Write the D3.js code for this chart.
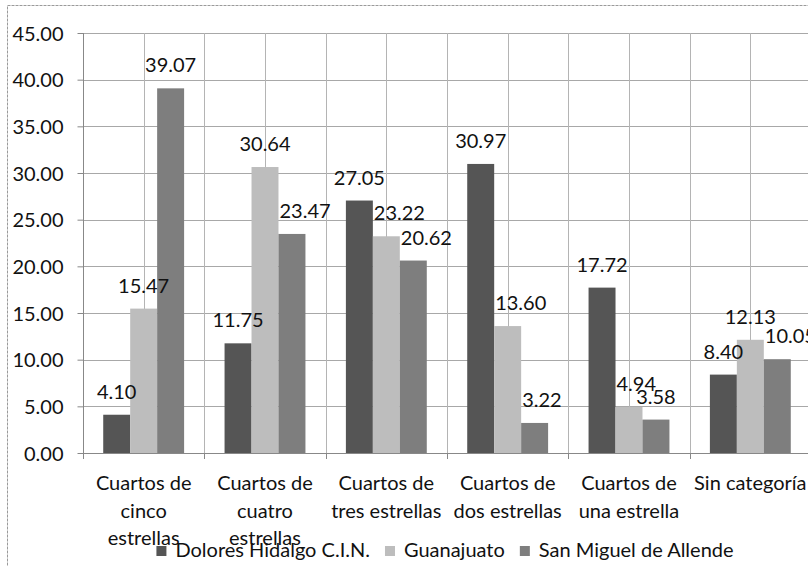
<!DOCTYPE html>
<html>
<head>
<meta charset="utf-8">
<script src="https://cdn.jsdelivr.net/npm/d3@7"></script>
<style>
  body { margin: 0; background: #fff; }
  svg { display: block; font-family: Lato, "Open Sans", sans-serif; }
</style>
</head>
<body>
<div id="chart"></div>
<script>
// category labels (already wrapped as in the original)
const categories = [
    ['Cuartos de', 'cinco', 'estrellas'],
    ['Cuartos de', 'cuatro', 'estrellas'],
    ['Cuartos de', 'tres estrellas'],
    ['Cuartos de', 'dos estrellas'],
    ['Cuartos de', 'una estrella'],
    ['Sin categoría']
];
const seriesNames = ['Dolores Hidalgo C.I.N.', 'Guanajuato', 'San Miguel de Allende'];
const dolores    = [4.10, 11.75, 27.05, 30.97, 17.72, 8.40];
const guanajuato = [15.47, 30.64, 23.22, 13.60, 4.94, 12.13];
const sanMiguel  = [39.07, 23.47, 20.62, 3.22, 3.58, 10.05];
const yTicks = [0, 5, 10, 15, 20, 25, 30, 35, 40, 45];

const seriesValues = [dolores, guanajuato, sanMiguel];
const seriesColors = ['#555555', '#bdbdbd', '#7e7e7e'];

const width = 808, height = 566;
const plot = { left: 83, right: 811, top: 33, bottom: 453 };
const fontSize = 20;

const svg = d3.select('#chart').append('svg')
    .attr('width', width)
    .attr('height', height);

// chart area border
svg.append('rect')
    .attr('x', 7.5).attr('y', 5.5)
    .attr('width', 820).attr('height', 580)
    .attr('fill', 'none')
    .attr('stroke', '#9a9a9a')
    .attr('stroke-dasharray', '3,1');

const x0 = d3.scaleBand()
    .domain(d3.range(categories.length))
    .range([plot.left, plot.right]);

const bw = x0.bandwidth();
const x1 = d3.scaleBand()
    .domain(d3.range(seriesNames.length))
    .range([bw / 6, bw * 5 / 6]);

const y = d3.scaleLinear()
    .domain([0, 45])
    .range([plot.bottom, plot.top]);

// horizontal gridlines
svg.append('g')
    .selectAll('line')
    .data(yTicks.slice(1))
    .join('line')
    .attr('x1', plot.left).attr('x2', plot.right)
    .attr('y1', d => Math.round(y(d)) + 0.5)
    .attr('y2', d => Math.round(y(d)) + 0.5)
    .attr('stroke', '#a8a8a8');

// vertical gridlines at band edges and band centres
const vLines = [];
d3.range(categories.length).forEach(i => {
    vLines.push(x0(i) + bw / 2);
    vLines.push(x0(i) + bw);
});
svg.append('g')
    .selectAll('line')
    .data(vLines)
    .join('line')
    .attr('x1', d => Math.round(d) + 0.5).attr('x2', d => Math.round(d) + 0.5)
    .attr('y1', plot.top).attr('y2', plot.bottom)
    .attr('stroke', '#b4b4b4');

// bars
const groups = svg.append('g')
    .selectAll('g')
    .data(d3.range(categories.length))
    .join('g')
    .attr('transform', i => `translate(${x0(i)},0)`);

groups.selectAll('rect')
    .data(i => seriesValues.map((s, k) => ({ k, v: s[i] })))
    .join('rect')
    .attr('x', d => x1(d.k))
    .attr('y', d => y(d.v))
    .attr('width', x1.bandwidth())
    .attr('height', d => y(0) - y(d.v))
    .attr('fill', d => seriesColors[d.k]);

// data labels, nudged right when they would sit on the neighbouring taller bar
const labelLayer = svg.append('g')
    .attr('font-size', fontSize)
    .attr('fill', '#111');

d3.range(categories.length).forEach(i => {
    seriesValues.forEach((s, k) => {
        const cx = x0(i) + x1(k) + x1.bandwidth() / 2;
        const base = y(s[i]) - 16;
        const t = labelLayer.append('text')
            .attr('y', base)
            .text(d3.format('.2f')(s[i]));
        const w = t.node().getComputedTextLength();
        let left = cx - w / 2;
        if (k > 0) {
            const prevRight = x0(i) + x1(k - 1) + x1.bandwidth();
            const prevTop = y(seriesValues[k - 1][i]);
            if (left < prevRight && base + 2 > prevTop) left = prevRight + 1;
        }
        t.attr('x', left);
    });
});

// y axis
const yAxis = svg.append('g')
    .attr('transform', `translate(${plot.left + 0.5},0)`)
    .call(d3.axisLeft(y).tickValues(yTicks).tickFormat(d3.format('.2f')).tickSize(6).tickPadding(14));
yAxis.select('.domain').attr('stroke', '#888').attr('d', `M0,${plot.top}V${plot.bottom}`);
yAxis.selectAll('.tick line').attr('stroke', '#888');
yAxis.selectAll('.tick text')
    .attr('font-family', 'Lato, "Open Sans", sans-serif')
    .attr('font-size', fontSize)
    .attr('fill', '#111')
    .attr('dy', '0.36em');

// x axis line and ticks at band edges
svg.append('line')
    .attr('x1', plot.left).attr('x2', plot.right)
    .attr('y1', plot.bottom + 0.5).attr('y2', plot.bottom + 0.5)
    .attr('stroke', '#888');
svg.append('g')
    .selectAll('line')
    .data(d3.range(categories.length + 1))
    .join('line')
    .attr('x1', i => Math.round(plot.left + i * bw) + 0.5)
    .attr('x2', i => Math.round(plot.left + i * bw) + 0.5)
    .attr('y1', plot.bottom).attr('y2', plot.bottom + 6)
    .attr('stroke', '#888');

// category labels
const catText = svg.append('g')
    .attr('font-size', fontSize)
    .attr('fill', '#111')
    .attr('text-anchor', 'middle')
    .selectAll('text')
    .data(categories)
    .join('text')
    .attr('x', (d, i) => x0(i) + bw / 2)
    .attr('y', 490);
catText.selectAll('tspan')
    .data(d => d)
    .join('tspan')
    .attr('x', function () { return this.parentNode.getAttribute('x'); })
    .attr('dy', (d, j) => j === 0 ? 0 : 27.5)
    .text(d => d);

// legend
const legend = svg.append('g')
    .attr('font-size', fontSize)
    .attr('fill', '#111');
let lx = 0;
const items = seriesNames.map((name, k) => {
    const g = legend.append('g');
    g.append('rect')
        .attr('x', 0).attr('y', -11)
        .attr('width', 10).attr('height', 10)
        .attr('fill', seriesColors[k]);
    const t = g.append('text').attr('x', 19).attr('y', 0).text(name);
    const w = 19 + t.node().getComputedTextLength();
    g.attr('transform', `translate(${lx},0)`);
    lx += w + 15;
    return g;
});
const legendWidth = lx - 15;
legend.attr('transform', `translate(${445 - legendWidth / 2},557)`);
</script>
</body>
</html>
